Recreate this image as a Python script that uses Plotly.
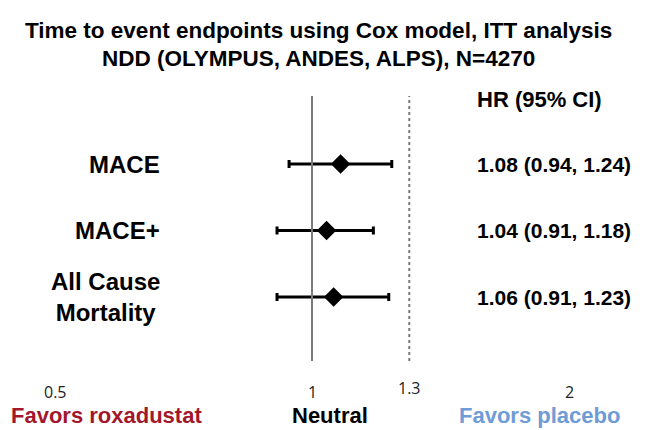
import numpy as np
import plotly.graph_objects as go

endpoints = ["MACE", "MACE+", "All Cause<br>Mortality"]
hr = [1.08, 1.04, 1.06]
ci_low = [0.94, 0.91, 0.91]
ci_high = [1.24, 1.18, 1.23]
hr_labels = ["1.08 (0.94, 1.24)", "1.04 (0.91, 1.18)", "1.06 (0.91, 1.23)"]
tick_vals = [0.5, 1, 1.3, 2]
tick_text = ["0.5", "1", "1.3", "2"]
title_lines = ["Time to event endpoints using Cox model, ITT analysis",
               "NDD (OLYMPUS, ANDES, ALPS), N=4270"]

rows = list(range(len(endpoints)))
FONT = "Liberation Sans, Arial, sans-serif"
W, H = 647, 430


def py(pix):
    return 1 - pix / H


def px(pix):
    return pix / W


fig = go.Figure()
fig.add_trace(go.Scatter(
    x=hr, y=rows, mode="markers",
    marker=dict(symbol="diamond", size=15, color="black"),
    error_x=dict(type="data", symmetric=False,
                 array=[h - m for h, m in zip(ci_high, hr)],
                 arrayminus=[m - l for m, l in zip(hr, ci_low)],
                 color="black", thickness=3, width=4),
    showlegend=False, hoverinfo="skip",
))

fig.add_shape(type="line", xref="x", yref="paper", x0=1, x1=1, y0=py(361), y1=py(96),
              line=dict(color="#7a7a7a", width=2))
fig.add_shape(type="line", xref="x", yref="paper", x0=1.3, x1=1.3, y0=py(361), y1=py(96),
              line=dict(color="#7a7a7a", width=2, dash="dot"))

ann = []
for r, name, lab in zip(rows, endpoints, hr_labels):
    ann.append(dict(x=px(162), y=r, xref="paper", yref="y", text=f"<b>{name}</b>",
                    xanchor="right", yanchor="middle", align="center", showarrow=False,
                    font=dict(family=FONT, size=24, color="black")))
    ann.append(dict(x=px(475), y=r, xref="paper", yref="y", text=f"<b>{lab}</b>",
                    xanchor="left", yanchor="middle", align="left", showarrow=False,
                    font=dict(family=FONT, size=21, color="black")))
ann.append(dict(x=px(475), y=py(100), xref="paper", yref="paper", text="<b>HR (95% CI)</b>",
                xanchor="left", yanchor="middle", showarrow=False,
                font=dict(family=FONT, size=22, color="black")))
for v, t in zip(tick_vals, tick_text):
    ann.append(dict(x=np.log10(v), y=py(388 if v == 1.3 else 392), xref="x", yref="paper", text=t,
                    xanchor="center", yanchor="middle", showarrow=False,
                    font=dict(family="Open Sans, sans-serif", size=16, color="#222")))
bottom = [(106, "Favors roxadustat", "#a3172c"), (330, "Neutral", "black"), (539, "Favors placebo", "#6f9bd6")]
for xp, t, c in bottom:
    ann.append(dict(x=px(xp), y=py(415), xref="paper", yref="paper", text=f"<b>{t}</b>",
                    xanchor="center", yanchor="middle", showarrow=False,
                    font=dict(family=FONT, size=22, color=c)))
for yy, line in zip([31, 59], title_lines):
    ann.append(dict(x=px(318), y=py(yy), xref="paper", yref="paper", text=f"<b>{line}</b>",
                    xanchor="center", yanchor="middle", showarrow=False,
                    font=dict(family=FONT, size=22.5, color="black")))

# log axis: 0.5 at 55 px, 2 at 569 px
per_px = (np.log10(2) - np.log10(0.5)) / (569 - 55)
x_lo = np.log10(0.5) - 55 * per_px
x_hi = np.log10(2) + (W - 569) * per_px
row_gap = 66.5
fig.update_layout(
    width=W, height=H,
    margin=dict(l=0, r=0, t=0, b=0),
    paper_bgcolor="white", plot_bgcolor="white",
    xaxis=dict(type="log", range=[x_lo, x_hi], visible=False, fixedrange=True),
    yaxis=dict(range=[(H - 164) / row_gap, -164 / row_gap], visible=False, fixedrange=True),
    annotations=ann,
)
fig.write_html("out.html", config={"displayModeBar": False},
               post_script="document.body.style.margin='0';")
